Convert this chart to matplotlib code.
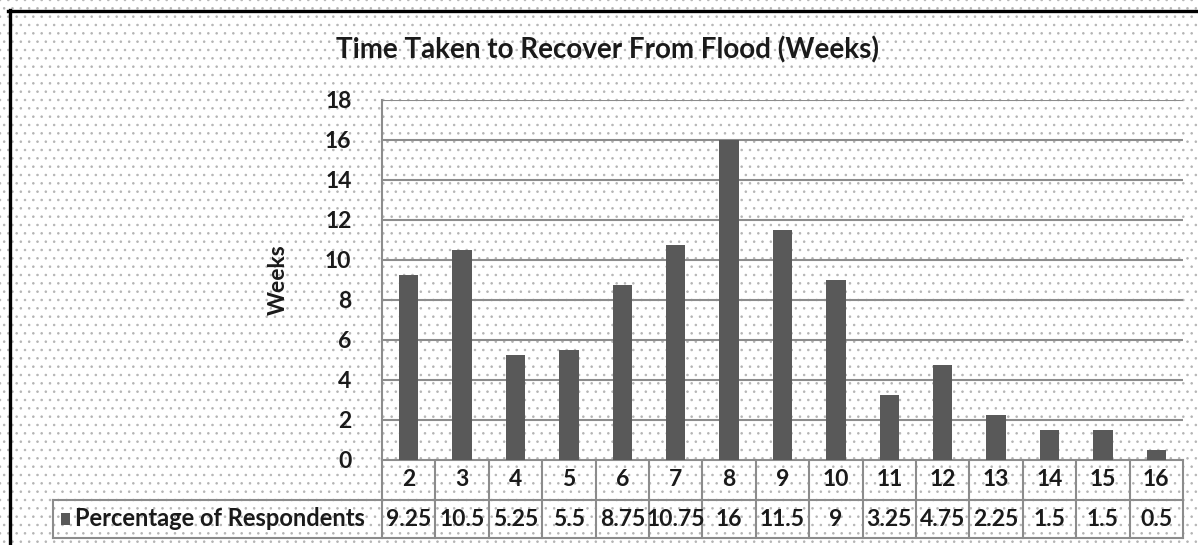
import matplotlib
matplotlib.use("Agg")
import matplotlib.pyplot as plt
from matplotlib.patches import Rectangle
from matplotlib.lines import Line2D

weeks = [2, 3, 4, 5, 6, 7, 8, 9, 10, 11, 12, 13, 14, 15, 16]
pct_respondents = [9.25, 10.5, 5.25, 5.5, 8.75, 10.75, 16, 11.5, 9, 3.25, 4.75, 2.25, 1.5, 1.5, 0.5]
y_ticks = [0, 2, 4, 6, 8, 10, 12, 14, 16, 18]

title = "Time Taken to Recover From Flood (Weeks)"
y_label = "Weeks"
series_name = "Percentage of Respondents"

plt.rcParams['font.family'] = ['Lato', 'DejaVu Sans']
plt.rcParams['hatch.linewidth'] = 0.6
bar_col = '#595959'
grid_col = '#8c8c8c'
txt_col = '#1a1a1a'
fs = 16.5

fig = plt.figure(figsize=(11.98, 5.45), dpi=100)

# dotted page background
bg = Rectangle((0, 0), 1, 1, transform=fig.transFigure, facecolor='white',
               edgecolor='#b4b4b4', lw=0, hatch='..', zorder=-10)
fig.patches.append(bg)

# heavy black frame on the top and left
fig.add_artist(Line2D([8 / 1198, 1], [1 - 11 / 545] * 2, transform=fig.transFigure,
                      color='black', lw=2.4))
fig.add_artist(Line2D([9.5 / 1198] * 2, [0, 1 - 10 / 545], transform=fig.transFigure,
                      color='black', lw=2.4))

ax = fig.add_axes([382 / 1198, 1 - 460 / 545, (1183 - 382) / 1198, 360 / 545])
ax.set_facecolor('none')

x = list(range(len(weeks)))
ax.bar(x, pct_respondents, width=0.36, color=bar_col, zorder=3)

ax.set_xlim(-0.5, len(weeks) - 0.5)
ax.set_ylim(0, 18)
ax.set_yticks(y_ticks)
ax.set_yticklabels([str(t) for t in y_ticks], fontsize=fs, fontweight='bold', color=txt_col)
ax.tick_params(axis='y', length=0, pad=22)
ax.set_xticks([])
for t in y_ticks[1:]:
    ax.axhline(t, color=grid_col, lw=1.5, zorder=1)
for s in ['top', 'right', 'bottom']:
    ax.spines[s].set_visible(False)
ax.spines['left'].set_color(grid_col)
ax.spines['left'].set_linewidth(1.5)

ax.set_ylabel(y_label, fontsize=fs, fontweight='bold', color=txt_col, labelpad=26)
fig.text(608 / 1198, 1 - 50 / 545, title, ha='center', va='center',
         fontsize=20, fontweight='bold', color=txt_col)

# data table under the axis
tr = ax.get_xaxis_transform()
r0, r1, r2 = 0, -40 / 360, -78 / 360
left_key = -0.5 - (382 - 53) / 53.45
n = len(weeks)
line_kw = dict(transform=tr, color=grid_col, lw=1.5, clip_on=False)
ax.add_line(Line2D([-0.5, n - 0.5], [r0, r0], **line_kw))
ax.add_line(Line2D([left_key, n - 0.5], [r1, r1], **line_kw))
ax.add_line(Line2D([left_key, n - 0.5], [r2, r2], **line_kw))
ax.add_line(Line2D([left_key, left_key], [r1, r2], **line_kw))
for i in range(n + 1):
    ax.add_line(Line2D([i - 0.5, i - 0.5], [r0, r2], **line_kw))

for i, (w, v) in enumerate(zip(weeks, pct_respondents)):
    ax.text(i, (r0 + r1) / 2, str(w), transform=tr, ha='center', va='center',
            fontsize=fs, fontweight='bold', color=txt_col)
    ax.text(i, (r1 + r2) / 2, '{:g}'.format(v), transform=tr, ha='center', va='center',
            fontsize=fs, fontweight='bold', color=txt_col)

# legend key inside the table
ax.add_patch(Rectangle((left_key + 0.14, (r1 + r2) / 2 - 0.016), 0.17, 0.032,
                       transform=tr, facecolor=bar_col, clip_on=False))
ax.text(left_key + 0.4, (r1 + r2) / 2, series_name, transform=tr, ha='left', va='center',
        fontsize=17, fontweight='bold', color=txt_col)

fig.savefig('out.png', dpi=100)
